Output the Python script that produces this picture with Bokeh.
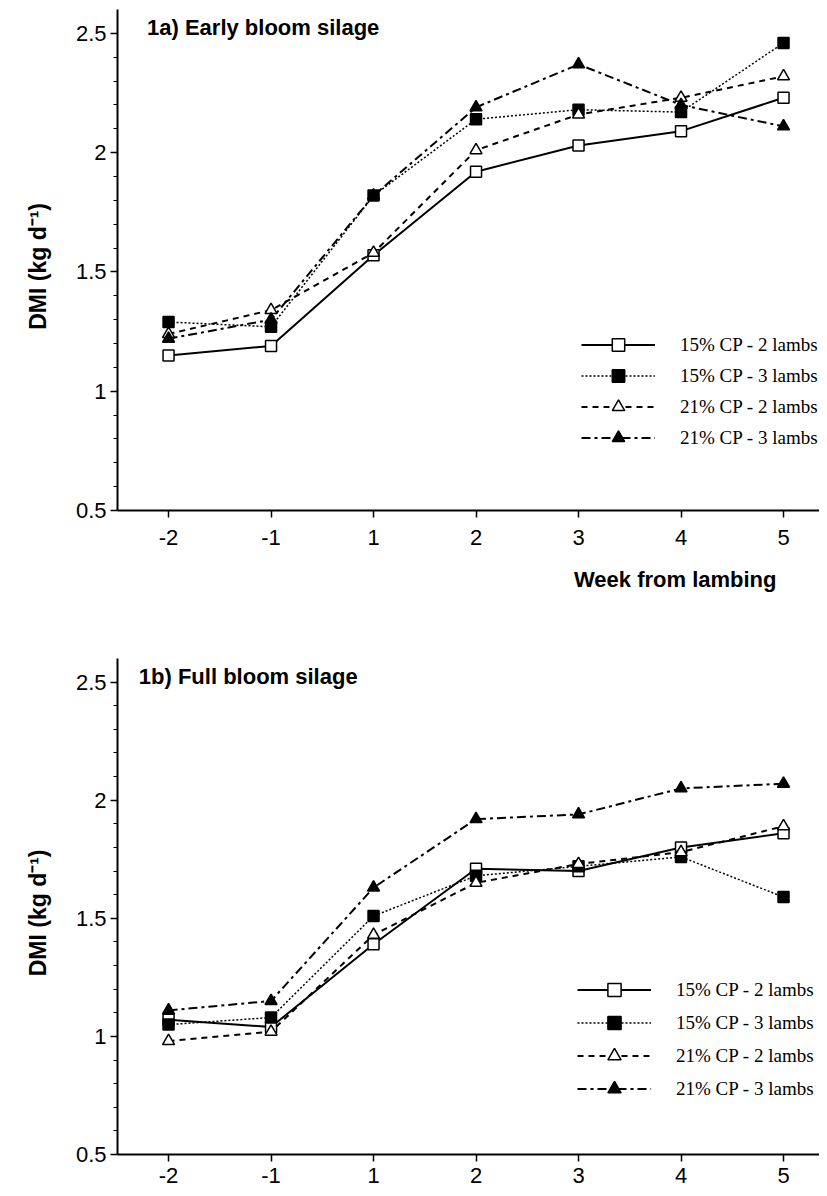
from bokeh.plotting import figure
from bokeh.layouts import column
from bokeh.models import Legend, LegendItem, Label, Title, FixedTicker
from bokeh.embed import file_html
from bokeh.resources import INLINE

# ---- data ----
weeks = ["-2", "-1", "1", "2", "3", "4", "5"]
series_names = ["15% CP - 2 lambs", "15% CP - 3 lambs",
                "21% CP - 2 lambs", "21% CP - 3 lambs"]

# 1a) Early bloom silage
early_cp15_2 = [1.15, 1.19, 1.57, 1.92, 2.03, 2.09, 2.23]
early_cp15_3 = [1.29, 1.27, 1.82, 2.14, 2.18, 2.17, 2.46]
early_cp21_2 = [1.24, 1.34, 1.58, 2.01, 2.16, 2.23, 2.32]
early_cp21_3 = [1.22, 1.30, 1.82, 2.19, 2.37, 2.20, 2.11]

# 1b) Full bloom silage
full_cp15_2 = [1.07, 1.04, 1.39, 1.71, 1.70, 1.80, 1.86]
full_cp15_3 = [1.05, 1.08, 1.51, 1.68, 1.72, 1.76, 1.59]
full_cp21_2 = [0.98, 1.02, 1.43, 1.65, 1.73, 1.78, 1.89]
full_cp21_3 = [1.11, 1.15, 1.63, 1.92, 1.94, 2.05, 2.07]

y_ticks = [0.5, 1, 1.5, 2, 2.5]
y_tick_labels = ["0.5", "1", "1.5", "2", "2.5"]
y_minor = [0.6, 0.7, 0.8, 0.9, 1.1, 1.2, 1.3, 1.4, 1.6, 1.7, 1.8, 1.9,
           2.1, 2.2, 2.3, 2.4]

styles = [
    dict(dash="solid", width=2.0, marker="square", fill="white", size=11),
    dict(dash="2 2", width=1.5, marker="square", fill="black", size=11),
    dict(dash="6 5", width=2.0, marker="triangle", fill="white", size=12),
    dict(dash="9 4 3 4", width=2.0, marker="triangle", fill="black", size=12),
]

SANS = "Liberation Sans"
SERIF = "Liberation Serif"


def make_panel(title, title_x, series, frame_h, border_top, border_bottom,
               xlabel, legend_loc, row_h, tick_out, tick_standoff):
    xi = list(range(len(weeks)))
    p = figure(frame_width=702, frame_height=frame_h, output_backend="svg",
               toolbar_location=None, x_range=(-0.498, 6.351),
               y_range=(0.5, 2.6), min_border_left=117,
               min_border_right=0, min_border_top=border_top,
               min_border_bottom=border_bottom)
    p.outline_line_color = None
    p.grid.visible = False
    p.background_fill_color = "white"

    # axes
    p.xaxis.ticker = FixedTicker(ticks=xi)
    p.xaxis.major_label_overrides = {i: w for i, w in enumerate(weeks)}
    p.yaxis.ticker = FixedTicker(ticks=y_ticks, minor_ticks=y_minor)
    p.yaxis.major_label_overrides = {t: l for t, l in zip(y_ticks, y_tick_labels)}
    for ax in (p.xaxis[0], p.yaxis[0]):
        ax.axis_line_color = "black"
        ax.axis_line_width = 2
        ax.major_tick_line_color = "black"
        ax.major_tick_line_width = 1.5
        ax.major_tick_in = 0
        ax.major_tick_out = 7
        ax.major_label_text_font = SANS
        ax.major_label_text_font_size = "22px"
        ax.major_label_text_color = "black"
    p.xaxis.minor_tick_line_color = None
    p.xaxis.major_tick_out = tick_out
    p.xaxis.major_label_standoff = tick_standoff
    p.yaxis.minor_tick_line_color = "black"
    p.yaxis.minor_tick_line_width = 1.2
    p.yaxis.minor_tick_in = 0
    p.yaxis.minor_tick_out = 4
    p.yaxis.major_label_standoff = 4
    p.yaxis.axis_label = "DMI  (kg  d\u207b\u00b9)"
    p.yaxis.axis_label_text_font = SANS
    p.yaxis.axis_label_text_font_style = "bold"
    p.yaxis.axis_label_text_font_size = "23px"
    p.yaxis.axis_label_text_color = "black"
    p.yaxis.axis_label_standoff = 22

    items = []
    for name, ys, st in zip(series_names, series, styles):
        lr = p.line(xi, ys, line_color="black", line_width=st["width"],
                    line_dash=st["dash"])
        sr = p.scatter(xi, ys, marker=st["marker"], size=st["size"],
                       fill_color=st["fill"], line_color="black",
                       line_width=1.5)
        items.append(LegendItem(label=name, renderers=[lr, sr]))

    legend = Legend(items=items, location=legend_loc,
                    glyph_width=74, glyph_height=row_h, spacing=0,
                    label_standoff=25, label_text_font=SERIF,
                    label_text_font_size="19px", label_text_color="black",
                    label_height=row_h,
                    background_fill_alpha=0, border_line_alpha=0,
                    padding=0, margin=0)
    p.add_layout(legend)

    p.add_layout(Label(x=title_x, y=2.525, text=title, text_font=SANS,
                       text_font_style="bold", text_font_size="22px",
                       text_baseline="middle", text_color="black"))
    if xlabel:
        p.add_layout(Title(text=xlabel, align="right", text_font=SANS,
                           text_font_style="bold", text_font_size="22px",
                           text_color="black", standoff=34, offset=43),
                     "below")
    return p


p1 = make_panel("1a) Early bloom silage", -0.21,
                [early_cp15_2, early_cp15_3, early_cp21_2, early_cp21_3],
                501, 9, 110, "Week from lambing", (464, 57), 31, 7, 12)
p2 = make_panel("1b) Full bloom silage", -0.29,
                [full_cp15_2, full_cp15_3, full_cp21_2, full_cp21_3],
                496, 38, 38, None, (460, 49), 33, 7, 6)

layout = column(p1, p2, spacing=0)
open("out.html", "w").write(file_html(layout, INLINE))
